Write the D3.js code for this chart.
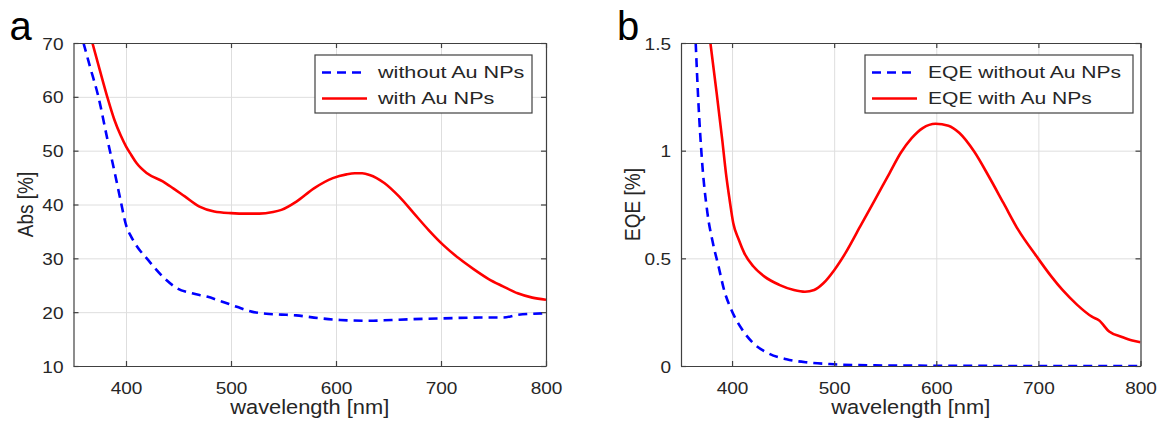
<!DOCTYPE html>
<html>
<head>
<meta charset="utf-8">
<script src="https://cdn.jsdelivr.net/npm/d3@7"></script>
<style>
  html, body { margin: 0; padding: 0; background: #ffffff; }
  svg { display: block; font-family: "Liberation Sans", Arial, Helvetica, sans-serif; }
</style>
</head>
<body>
<svg id="chart" width="1158" height="424"></svg>
<script>
// ---------------- data ----------------
const xTicks = [400, 500, 600, 700, 800];
const absTicks = [10, 20, 30, 40, 50, 60, 70];
const eqeTicks = [0, 0.5, 1, 1.5];

const absWithoutWl  = [359.5, 366, 373.6, 382.4, 389.4, 394.7, 400, 405, 410.5, 421, 435, 449, 463, 477, 491, 505.5, 519.6, 533.6, 548, 562, 583, 604, 632, 653, 674, 702, 737, 759, 773, 800];
const absWithoutVal = [70, 65.4, 60.1, 52, 45.8, 40.9, 36.2, 34, 32.2, 29.7, 26.6, 24.4, 23.5, 22.9, 22, 21, 20.1, 19.7, 19.55, 19.4, 18.9, 18.55, 18.4, 18.55, 18.7, 18.85, 19, 19, 19.5, 19.8];

const absWithWl  = [368, 375, 382, 389, 395, 400, 405, 410, 420, 435, 445, 456, 470, 484, 500, 515, 527, 540, 548, 562, 579, 597, 610, 618, 625, 632, 646, 660, 674, 688, 702, 717, 731, 745, 759, 773, 787, 800];
const absWithVal = [70, 65, 60.1, 55.7, 52.8, 50.8, 49.2, 47.7, 45.8, 44.3, 43, 41.5, 39.6, 38.7, 38.4, 38.3, 38.3, 38.6, 39, 40.5, 43, 44.9, 45.6, 45.8, 45.8, 45.5, 44, 41.5, 38.4, 35.3, 32.5, 30, 28, 26.2, 24.8, 23.5, 22.7, 22.3];

const eqeWithoutWl  = [364.4, 366.9, 370.5, 375.9, 381.3, 386.8, 392.2, 399.4, 410.2, 421, 435.4, 453.4, 475, 500, 540, 612, 700, 800];
const eqeWithoutVal = [1.5, 1.237, 0.958, 0.71, 0.57, 0.462, 0.353, 0.26, 0.167, 0.105, 0.059, 0.031, 0.016, 0.008, 0.003, 0.001, 0, 0];

const eqeWithWl  = [378.8, 384.9, 390.4, 394, 397.6, 401.2, 406.6, 412, 421, 431.8, 446.2, 460.6, 471.4, 480.4, 489.4, 500.2, 511, 525.5, 539.9, 554.3, 565.1, 575.9, 586.7, 599.3, 611.9, 622.7, 637.1, 651.5, 665.9, 680.3, 698.4, 712.8, 723.6, 738, 752.4, 759.6, 769.3, 781.2, 792, 800];
const eqeWithVal = [1.5, 1.268, 1.05, 0.896, 0.772, 0.663, 0.586, 0.524, 0.462, 0.415, 0.377, 0.353, 0.345, 0.353, 0.384, 0.446, 0.524, 0.648, 0.772, 0.896, 0.989, 1.058, 1.105, 1.125, 1.116, 1.082, 0.996, 0.88, 0.756, 0.632, 0.508, 0.415, 0.353, 0.284, 0.229, 0.211, 0.16, 0.136, 0.118, 0.11];

const panels = [
  {
    letter: "a", yLabel: "Abs [%]", yDomain: [10, 70], yTicks: absTicks, yFmt: d => d,
    left: 73.5, right: 546, legendLeft: 315, legendRight: 532, lsx: 1.27,
    series: [
      { name: "without Au NPs", wl: absWithoutWl, val: absWithoutVal, color: "#0000ff", dash: "9,6" },
      { name: "with Au NPs", wl: absWithWl, val: absWithVal, color: "#ff0000", dash: null }
    ]
  },
  {
    letter: "b", yLabel: "EQE [%]", yDomain: [0, 1.5], yTicks: eqeTicks, yFmt: d => d,
    left: 681, right: 1140.5, legendLeft: 865, legendRight: 1133, lsx: 1.24,
    series: [
      { name: "EQE without Au NPs", wl: eqeWithoutWl, val: eqeWithoutVal, color: "#0000ff", dash: "9,6" },
      { name: "EQE with Au NPs", wl: eqeWithWl, val: eqeWithVal, color: "#ff0000", dash: null }
    ]
  }
];

// ---------------- drawing ----------------
const svg = d3.select("#chart");
const TOP = 43, BOTTOM = 366;
const TXT = "#262626";
const SX = 1.12;   // horizontal text stretch of the reference

panels.forEach((p, pi) => {
  const x = d3.scaleLinear().domain([350, 800]).range([p.left, p.right]);
  const y = d3.scaleLinear().domain(p.yDomain).range([BOTTOM, TOP]);
  const g = svg.append("g");
  const W = p.right - p.left, H = BOTTOM - TOP;

  // grid
  g.append("g").attr("transform", `translate(0,${BOTTOM})`)
    .call(d3.axisBottom(x).tickValues(xTicks).tickSize(-H).tickFormat(""))
    .call(s => s.select(".domain").remove())
    .call(s => s.selectAll("line").attr("stroke", "#dedede").attr("stroke-width", 1));
  g.append("g").attr("transform", `translate(${p.left},0)`)
    .call(d3.axisLeft(y).tickValues(p.yTicks).tickSize(-W).tickFormat(""))
    .call(s => s.select(".domain").remove())
    .call(s => s.selectAll("line").attr("stroke", "#dedede").attr("stroke-width", 1));

  // lines
  const clipId = "clip" + pi;
  svg.append("clipPath").attr("id", clipId).append("rect")
    .attr("x", p.left).attr("y", TOP).attr("width", W).attr("height", H);
  const line = d3.line().x(d => x(d[0])).y(d => y(d[1])).curve(d3.curveMonotoneX);
  p.series.forEach(s => {
    const pts = s.wl.map((w, i) => [w, s.val[i]]);
    g.append("path").datum(pts)
      .attr("clip-path", `url(#${clipId})`)
      .attr("d", line).attr("fill", "none")
      .attr("stroke", s.color).attr("stroke-width", 2.6)
      .attr("stroke-dasharray", s.dash);
  });

  // axes (box with inward ticks)
  const styleAxis = s => {
    s.select(".domain").attr("stroke", "#404040").attr("stroke-width", 1.2);
    s.selectAll(".tick line").attr("stroke", "#404040").attr("stroke-width", 1.2);
  };
  const bx = g.append("g").attr("transform", `translate(0,${BOTTOM})`)
    .call(d3.axisBottom(x).tickValues(xTicks).tickSizeInner(-5).tickSizeOuter(0))
    .call(styleAxis);
  bx.selectAll(".tick text").attr("y", 28).attr("dy", null)
    .attr("fill", TXT).attr("font-size", 17).attr("font-family", null)
    .attr("transform", `scale(${SX},1)`);

  g.append("g").attr("transform", `translate(0,${TOP})`)
    .call(d3.axisTop(x).tickValues(xTicks).tickSizeInner(-5).tickSizeOuter(0).tickFormat(""))
    .call(styleAxis);

  const ly = g.append("g").attr("transform", `translate(${p.left},0)`)
    .call(d3.axisLeft(y).tickValues(p.yTicks).tickSizeInner(-5).tickSizeOuter(0).tickFormat(p.yFmt))
    .call(styleAxis);
  ly.selectAll(".tick text").attr("x", -10 / SX).attr("dy", "0.36em")
    .attr("fill", TXT).attr("font-size", 17).attr("font-family", null)
    .attr("transform", `scale(${SX},1)`);

  g.append("g").attr("transform", `translate(${p.right},0)`)
    .call(d3.axisRight(y).tickValues(p.yTicks).tickSizeInner(-5).tickSizeOuter(0).tickFormat(""))
    .call(styleAxis);

  // axis labels
  g.append("text")
    .attr("transform", `translate(${(p.left + p.right) / 2},414) scale(${SX},1)`)
    .attr("text-anchor", "middle").attr("font-size", 19.5).attr("fill", TXT)
    .text("wavelength [nm]");
  g.append("text")
    .attr("transform", `translate(${p.left - 41},${(TOP + BOTTOM) / 2}) rotate(-90) scale(1,${SX})`)
    .attr("text-anchor", "middle").attr("font-size", 19).attr("fill", TXT)
    .text(p.yLabel);

  // panel letter
  g.append("text")
    .attr("x", p.left - 64).attr("y", 40)
    .attr("font-size", 40).attr("fill", "#000")
    .text(p.letter);

  // legend
  const lg = g.append("g");
  lg.append("rect")
    .attr("x", p.legendLeft).attr("y", 55)
    .attr("width", p.legendRight - p.legendLeft).attr("height", 58)
    .attr("fill", "#fff").attr("stroke", "#404040").attr("stroke-width", 1.2);
  p.series.forEach((s, i) => {
    const yy = 72.5 + i * 26;
    lg.append("line")
      .attr("x1", p.legendLeft + 7).attr("x2", p.legendLeft + 52)
      .attr("y1", yy).attr("y2", yy)
      .attr("stroke", s.color).attr("stroke-width", 2.6)
      .attr("stroke-dasharray", s.dash);
    lg.append("text")
      .attr("transform", `translate(${p.legendLeft + 63},${yy}) scale(${p.lsx},1)`)
      .attr("dy", "0.35em").attr("font-size", 17).attr("fill", TXT)
      .text(s.name);
  });
});
</script>
</body>
</html>
